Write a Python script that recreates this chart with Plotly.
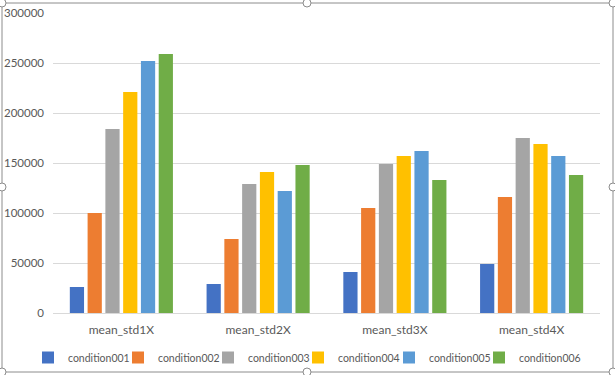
import plotly.graph_objects as go

categories = ["mean_std1X", "mean_std2X", "mean_std3X", "mean_std4X"]
series_names = ["condition001", "condition002", "condition003", "condition004", "condition005", "condition006"]
condition001 = [26000, 29000, 41000, 49000]
condition002 = [100000, 74000, 105000, 116000]
condition003 = [184000, 129000, 149000, 175000]
condition004 = [221000, 141000, 157000, 169000]
condition005 = [252000, 122000, 162000, 157000]
condition006 = [259000, 148000, 133000, 138000]
series_values = [condition001, condition002, condition003, condition004, condition005, condition006]
colors = ["#4472C4", "#ED7D31", "#A5A5A5", "#FFC000", "#5B9BD5", "#70AD47"]
y_ticks = [0, 50000, 100000, 150000, 200000, 250000, 300000]

W, H = 615, 375
L, R, T, B = 53, 15, 13, 62

def px_x(x):
    return (x - L) / (W - L - R)

def px_y(y):
    return 1 - (y - T) / (H - T - B)

# pixel x of each legend entry's left edge (one legend box per series)
legend_left_px = [28, 118, 208, 298, 389, 479]
legend_ids = ["legend", "legend2", "legend3", "legend4", "legend5", "legend6"]

fig = go.Figure()
for name, vals, col, lid in zip(series_names, series_values, colors, legend_ids):
    fig.add_trace(go.Bar(x=categories, y=vals, name=name, legend=lid, showlegend=True,
                         marker=dict(color=col, line=dict(width=0))))

shapes = [dict(type="rect", xref="paper", yref="paper",
               x0=px_x(2), x1=px_x(613), y0=px_y(372), y1=px_y(3),
               line=dict(color="#8c8c8c", width=1))]
for (cx, cy) in [(2, 3), (307, 3), (613, 3), (2, 187), (613, 187), (2, 372), (307, 372), (613, 372)]:
    r = 4
    shapes.append(dict(type="circle", xref="paper", yref="paper",
                       x0=px_x(cx - r), x1=px_x(cx + r), y0=px_y(cy + r), y1=px_y(cy - r),
                       line=dict(color="#8c8c8c", width=1), fillcolor="white"))

FONT = "Lato, Open Sans, sans-serif"
legend_style = dict(orientation="h", xanchor="left", y=px_y(343), yanchor="top",
                    font=dict(size=10.5, color="#595959"), itemwidth=30,
                    bgcolor="rgba(0,0,0,0)")
legends = {}
for lid, lx in zip(legend_ids, legend_left_px):
    legends[lid] = dict(legend_style, x=px_x(lx))

fig.update_layout(
    width=W, height=H,
    showlegend=True,
    margin=dict(l=L, r=R, t=T, b=B, autoexpand=False),
    paper_bgcolor="white", plot_bgcolor="white",
    barmode="group", bargap=0.22, bargroupgap=0.2,
    font=dict(family=FONT, size=12, color="#595959"),
    xaxis=dict(showgrid=False, showline=True, linecolor="#D9D9D9", linewidth=1,
               ticks="", ticklabelstandoff=6, tickfont=dict(size=12, color="#595959")),
    yaxis=dict(range=[0, 300000], tickvals=y_ticks, ticktext=[str(v) for v in y_ticks],
               showgrid=True, gridcolor="#D9D9D9", gridwidth=1, zeroline=False,
               showline=False, ticks="", ticklabelstandoff=8,
               tickfont=dict(size=11.5, color="#595959")),
    shapes=shapes,
    **legends,
)

fig.write_html("out.html", config={"displayModeBar": False},
               post_script="document.body.style.margin='0';document.body.style.overflow='hidden';")
